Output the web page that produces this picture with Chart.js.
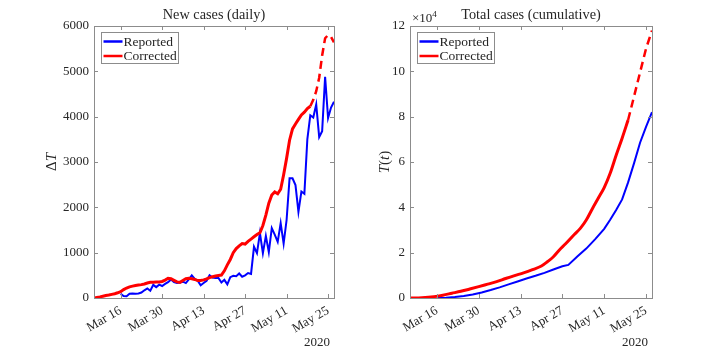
<!DOCTYPE html>
<html>
<head>
<meta charset="utf-8">
<script src="https://cdn.jsdelivr.net/npm/chart.js@4/dist/chart.umd.min.js"></script>
<style>
body { margin: 0; background: #fff; width: 720px; height: 351px; overflow: hidden; position: relative; }
canvas { position: absolute; top: 0; }
</style>
</head>
<body>
<canvas id="daily" width="360" height="351" style="left:0"></canvas>
<canvas id="total" width="360" height="351" style="left:360px"></canvas>
<script>
// x values are days counted from Mar 7 (day 0)
const tickDays = [9, 23, 37, 51, 65, 79]
const tickLabels = ['Mar 16', 'Mar 30', 'Apr 13', 'Apr 27', 'May 11', 'May 25']

// new cases per day
const reportedDailyStart = 9
const reportedDaily = [
    90, 45, 40, 95, 100, 95, 100, 120, 170, 210,
    160, 290, 240, 295, 265, 310, 350, 410, 350, 330,
    340, 360, 330, 410, 500, 420, 380, 280, 330, 380,
    500, 450, 440, 440, 340, 400, 300, 460, 490, 480,
    540, 470, 500, 550, 530, 1130, 990, 1430, 990, 1370,
    1010, 1540, 1400, 1240, 1650, 1200, 1720, 2640, 2640, 2490,
    1900, 2350, 2300, 3500, 4030, 3980, 4270, 3550, 3680, 4880,
    3970, 4200, 4330
]
const correctedDailyStart = 0
const correctedDaily = [
    0, 12, 25, 40, 55, 65, 80, 95, 115, 140,
    185, 220, 245, 262, 275, 285, 295, 310, 330, 345,
    350, 352, 355, 365, 395, 435, 425, 390, 355, 345,
    385, 425, 435, 425, 410, 385, 385, 400, 420, 450,
    470, 485, 495, 505, 600, 730, 850, 1000, 1090, 1150,
    1200, 1190, 1250, 1300, 1350, 1400, 1440, 1600, 1830, 2090,
    2270, 2340, 2300, 2400, 2720, 3080, 3480, 3730, 3840, 3940,
    4040, 4100, 4180, 4230
]
const projectedDailyStart = 73
const projectedDaily = [4230, 4370, 4560, 4860, 5350, 5730, 5800, 5760, 5640]

// cumulative cases
const reportedTotalDays = [9, 12, 15, 18, 21, 24, 27, 30, 33, 36, 39, 42, 45, 48, 51, 53, 56, 59, 62, 65, 67, 69, 71, 73, 75, 77, 79, 81]
const reportedTotal = [0, 150, 450, 850, 1500, 2400, 3500, 4700, 6000, 7300, 8600, 9800, 11100, 12600, 14000, 14600, 18300, 21800, 26000, 30500, 34500, 38800, 43500, 51000, 59500, 68500, 75500, 82000]
const correctedTotalDays = [0, 4, 8, 11, 14, 17, 20, 23, 26, 29, 32, 35, 38, 41, 44, 46, 48, 50, 52, 55, 57, 59, 61, 63, 65, 67, 69, 71, 73]
const correctedTotal = [0, 150, 600, 1250, 2100, 2950, 3950, 5000, 6100, 7200, 8600, 9900, 11100, 12500, 14100, 16000, 18200, 21200, 23800, 28000, 30700, 34400, 39300, 44000, 48700, 55000, 63000, 70500, 78500]
const projectedTotalDays = [73, 75, 77, 79, 81]
const projectedTotal = [78500, 89000, 99500, 110000, 118000]

const BLUE = 'rgb(0, 0, 255)'
const RED = 'rgb(255, 0, 0)'
const FONT = "'Liberation Serif', 'DejaVu Serif', serif"
const INK = '#262626'

const fromStart = (start, vals) => vals.map((v, i) => ({ x: start + i, y: v }))
const fromDays = (days, vals) => vals.map((v, i) => ({ x: days[i], y: v }))

// matlab style box, inward ticks, legend and labels
const frame = {
    id: 'frame',
    afterDatasetsDraw(chart, args, o) {
        const { ctx, chartArea: a, scales } = chart
        ctx.save()
        ctx.strokeStyle = '#8c8c8c'
        ctx.lineWidth = 1
        ctx.strokeRect(Math.round(a.left) + 0.5, Math.round(a.top) + 0.5, Math.round(a.right - a.left), Math.round(a.bottom - a.top))
        ctx.beginPath()
        scales.x.ticks.forEach(t => {
            const px = Math.round(scales.x.getPixelForValue(t.value)) + 0.5
            ctx.moveTo(px, a.bottom); ctx.lineTo(px, a.bottom - 4)
            ctx.moveTo(px, a.top); ctx.lineTo(px, a.top + 4)
        })
        scales.y.ticks.forEach(t => {
            const py = Math.round(scales.y.getPixelForValue(t.value)) + 0.5
            ctx.moveTo(a.left, py); ctx.lineTo(a.left + 4, py)
            ctx.moveTo(a.right, py); ctx.lineTo(a.right - 4, py)
        })
        ctx.stroke()

        // legend
        const lx = Math.round(a.left) + 7.5, ly = Math.round(a.top) + 6.5
        ctx.fillStyle = '#fff'
        ctx.fillRect(lx, ly, 77, 31)
        ctx.strokeRect(lx, ly, 77, 31)
        ctx.font = '13.5px ' + FONT
        ctx.textBaseline = 'middle'
        ctx.textAlign = 'left'
        o.legend.forEach((name, i) => {
            const ds = chart.data.datasets.find(d => d.label === name)
            const y = ly + 9 + i * 14.5
            ctx.strokeStyle = ds.borderColor
            ctx.lineWidth = 2.5
            ctx.beginPath(); ctx.moveTo(lx + 2, y); ctx.lineTo(lx + 21, y); ctx.stroke()
            ctx.fillStyle = INK
            ctx.fillText(name, lx + 22, y + 0.5)
        })

        // title
        ctx.fillStyle = INK
        ctx.font = '14.3px ' + FONT
        ctx.textAlign = 'center'
        ctx.fillText(o.title, (a.left + a.right) / 2, 15)

        // year under the axis
        ctx.font = '13px ' + FONT
        ctx.textAlign = 'right'
        ctx.fillText('2020', a.right - 4, 343)

        // exponent
        if (o.exponent) {
            ctx.textAlign = 'left'
            ctx.textBaseline = 'alphabetic'
            ctx.font = '13px ' + FONT
            ctx.fillText('\u00d710', a.left + 2, 22)
            const w = ctx.measureText('\u00d710').width
            ctx.font = '9px ' + FONT
            ctx.fillText('4', a.left + 2 + w, 17)
        }

        // y label pieces: [text, italic]
        ctx.save()
        ctx.translate(o.ylabelX, (a.top + a.bottom) / 2)
        ctx.rotate(-Math.PI / 2)
        ctx.textBaseline = 'middle'
        ctx.textAlign = 'left'
        const fontOf = p => (p[1] ? 'italic ' : '') + '15px ' + FONT
        let total = 0
        o.ylabel.forEach(p => { ctx.font = fontOf(p); total += ctx.measureText(p[0]).width })
        let x = -total / 2
        o.ylabel.forEach(p => {
            ctx.font = fontOf(p)
            ctx.fillText(p[0], x, 0)
            x += ctx.measureText(p[0]).width
        })
        ctx.restore()
        ctx.restore()
    }
}

function makeOptions(cfg) {
    return {
        responsive: false,
        animation: false,
        events: [],
        layout: { padding: { top: 26, right: cfg.padRight, left: 0, bottom: 0 } },
        plugins: {
            legend: { display: false },
            tooltip: { enabled: false },
            frame: cfg.frame
        },
        scales: {
            x: {
                type: 'linear',
                min: 0,
                max: 81,
                grid: { display: false, drawTicks: false },
                border: { display: false },
                afterBuildTicks: s => { s.ticks = tickDays.map(v => ({ value: v })) },
                afterFit: s => { s.height = 53 },
                ticks: {
                    color: INK,
                    font: { family: FONT, size: 13 },
                    minRotation: 30,
                    maxRotation: 30,
                    padding: 5,
                    callback: v => tickLabels[tickDays.indexOf(v)]
                }
            },
            y: {
                min: 0,
                max: cfg.yMax,
                grid: { display: false, drawTicks: false },
                border: { display: false },
                afterFit: s => { s.width = cfg.yWidth },
                ticks: {
                    color: INK,
                    font: { family: FONT, size: 13 },
                    stepSize: cfg.yStep,
                    padding: 5,
                    callback: cfg.yTick
                }
            }
        }
    }
}

new Chart(document.getElementById('daily').getContext('2d'), {
    type: 'line',
    data: {
        datasets: [
            {
                label: 'Corrected',
                data: fromStart(correctedDailyStart, correctedDaily),
                borderColor: RED,
                borderWidth: 3,
                pointRadius: 0,
            },
            {
                label: 'Corrected (projection)',
                data: fromStart(projectedDailyStart, projectedDaily),
                borderColor: RED,
                borderWidth: 2.5,
                borderDash: [8, 5],
                pointRadius: 0,
            },
            {
                label: 'Reported',
                data: fromStart(reportedDailyStart, reportedDaily),
                borderColor: BLUE,
                borderWidth: 2,
                pointRadius: 0,
            }
        ]
    },
    options: makeOptions({
        padRight: 26,
        yWidth: 94,
        yMax: 6000,
        yStep: 1000,
        yTick: v => v,
        frame: {
            title: 'New cases (daily)',
            legend: ['Reported', 'Corrected'],
            ylabel: [['\u0394', false], ['T', true]],
            ylabelX: 52,
            exponent: false
        }
    }),
    plugins: [frame]
})

new Chart(document.getElementById('total').getContext('2d'), {
    type: 'line',
    data: {
        datasets: [
            {
                label: 'Corrected',
                data: fromDays(correctedTotalDays, correctedTotal),
                borderColor: RED,
                borderWidth: 3,
                pointRadius: 0,
                cubicInterpolationMode: 'monotone',
            },
            {
                label: 'Corrected (projection)',
                data: fromDays(projectedTotalDays, projectedTotal),
                borderColor: RED,
                borderWidth: 2.5,
                borderDash: [8, 5],
                pointRadius: 0,
            },
            {
                label: 'Reported',
                data: fromDays(reportedTotalDays, reportedTotal),
                borderColor: BLUE,
                borderWidth: 2,
                pointRadius: 0,
            }
        ]
    },
    options: makeOptions({
        padRight: 68,
        yWidth: 50,
        yMax: 120000,
        yStep: 20000,
        yTick: v => v / 10000,
        frame: {
            title: 'Total cases (cumulative)',
            legend: ['Reported', 'Corrected'],
            ylabel: [['T', true], ['(', false], ['t', true], [')', false]],
            ylabelX: 25,
            exponent: true
        }
    }),
    plugins: [frame]
})
</script>
</body>
</html>
